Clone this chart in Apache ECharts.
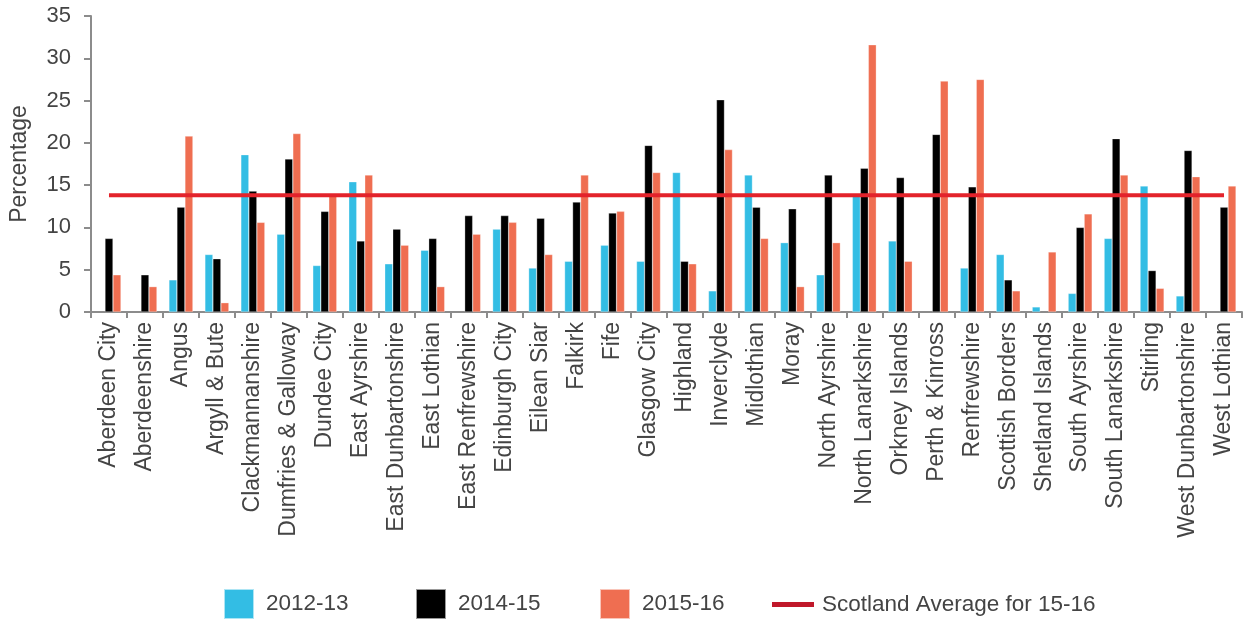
<!DOCTYPE html>
<html>
<head>
<meta charset="utf-8">
<script src="https://cdn.jsdelivr.net/npm/echarts@6/dist/echarts.min.js"></script>
<style>
  html, body { margin: 0; padding: 0; background: #fff; }
  #chart { width: 1245px; height: 619px; }
</style>
</head>
<body>
<div id="chart"></div>
<script>
var councils = ['Aberdeen City', 'Aberdeenshire', 'Angus', 'Argyll & Bute', 'Clackmannanshire',
  'Dumfries & Galloway', 'Dundee City', 'East Ayrshire', 'East Dunbartonshire', 'East Lothian',
  'East Renfrewshire', 'Edinburgh City', 'Eilean Siar', 'Falkirk', 'Fife', 'Glasgow City',
  'Highland', 'Inverclyde', 'Midlothian', 'Moray', 'North Ayrshire', 'North Lanarkshire',
  'Orkney Islands', 'Perth & Kinross', 'Renfrewshire', 'Scottish Borders', 'Shetland Islands',
  'South Ayrshire', 'South Lanarkshire', 'Stirling', 'West Dunbartonshire', 'West Lothian']

var y2012 = [null, null, 3.8, 6.8, 18.6, 9.2, 5.5, 15.4, 5.7, 7.3,
  null, 9.8, 5.2, 6.0, 7.9, 6.0, 16.5, 2.5, 16.2, 8.2,
  4.4, 13.7, 8.4, null, 5.2, 6.8, 0.6, 2.2, 8.7, 14.9, 1.9, null]

var y2014 = [8.7, 4.4, 12.4, 6.3, 14.3, 18.1, 11.9, 8.4, 9.8, 8.7,
  11.4, 11.4, 11.1, 13.0, 11.7, 19.7, 6.0, 25.1, 12.4, 12.2,
  16.2, 17.0, 15.9, 21.0, 14.8, 3.8, null, 10.0, 20.5, 4.9, 19.1, 12.4]

var y2015 = [4.4, 3.0, 20.8, 1.1, 10.6, 21.1, 13.7, 16.2, 7.9, 3.0,
  9.2, 10.6, 6.8, 16.2, 11.9, 16.5, 5.7, 19.2, 8.7, 3.0,
  8.2, 31.6, 6.0, 27.3, 27.5, 2.5, 7.1, 11.6, 16.2, 2.8, 16.0, 14.9]

var scotlandAvg = 13.8
var avgLine = councils.map(function () { return scotlandAvg })

var yTicks = { min: 0, max: 35, interval: 5 }

var textColor = '#444'
var axisColor = '#8c8c8c'
var font = 'Liberation Sans'

var myChart = echarts.init(document.getElementById('chart'))

var barStyle = function (color) {
  return {
    color: color,
    borderColor: 'rgba(255,255,255,0.6)',
    borderWidth: 0.5
  }
}

// one legend per entry so each sits where the original has it
var boxLegend = function (name, left) {
  return {
    data: [name],
    left: left,
    top: 588,
    padding: 0,
    itemWidth: 30,
    itemHeight: 30,
    icon: 'rect',
    textStyle: { fontSize: 22.5, color: textColor, fontFamily: font, padding: [0, 0, 0, 7] }
  }
}

var option = {
  animation: false,
  textStyle: { fontFamily: font },
  grid: { left: 90, right: 3, top: 16, bottom: 307 },
  legend: [
    boxLegend('2012-13', 223),
    boxLegend('2014-15', 415),
    boxLegend('2015-16', 599),
    {
      data: [{ name: 'Scotland Average for 15-16', icon: 'path://M0,0 L42,0 L42,5 L0,5 Z' }],
      left: 772,
      top: 593,
      padding: 0,
      itemWidth: 42,
      itemHeight: 5,
      textStyle: { fontSize: 22.5, color: textColor, fontFamily: font, padding: [0, 0, 0, 3] }
    }
  ],
  xAxis: {
    type: 'category',
    data: councils,
    axisLine: { lineStyle: { color: axisColor, width: 2 } },
    axisTick: { show: true, length: 6, lineStyle: { color: axisColor, width: 2 } },
    axisLabel: {
      rotate: 90,
      interval: 0,
      margin: 10,
      fontSize: 23,
      color: textColor,
      fontFamily: font
    }
  },
  yAxis: {
    type: 'value',
    min: yTicks.min,
    max: yTicks.max,
    interval: yTicks.interval,
    name: 'Percentage',
    nameLocation: 'middle',
    nameGap: 60,
    nameTextStyle: { fontSize: 23, color: textColor, fontFamily: font },
    axisLine: { show: true, lineStyle: { color: axisColor, width: 2 } },
    axisTick: { show: true, length: 7, lineStyle: { color: axisColor, width: 2 } },
    axisLabel: { fontSize: 22, color: textColor, margin: 20, fontFamily: font },
    splitLine: { show: false }
  },
  series: [{
    name: '2012-13',
    type: 'bar',
    data: y2012,
    barWidth: 8,
    barGap: '0%',
    itemStyle: barStyle('#33bde4')
  }, {
    name: '2014-15',
    type: 'bar',
    data: y2014,
    barWidth: 8,
    barGap: '0%',
    itemStyle: barStyle('#000000')
  }, {
    name: '2015-16',
    type: 'bar',
    data: y2015,
    barWidth: 8,
    barGap: '0%',
    itemStyle: barStyle('#ef6e51')
  }, {
    name: 'Scotland Average for 15-16',
    type: 'line',
    data: avgLine,
    symbol: 'none',
    z: 5,
    lineStyle: { color: '#e3232b', width: 4 },
    itemStyle: { color: '#c0182a' }
  }]
}

myChart.setOption(option)
</script>
</body>
</html>
